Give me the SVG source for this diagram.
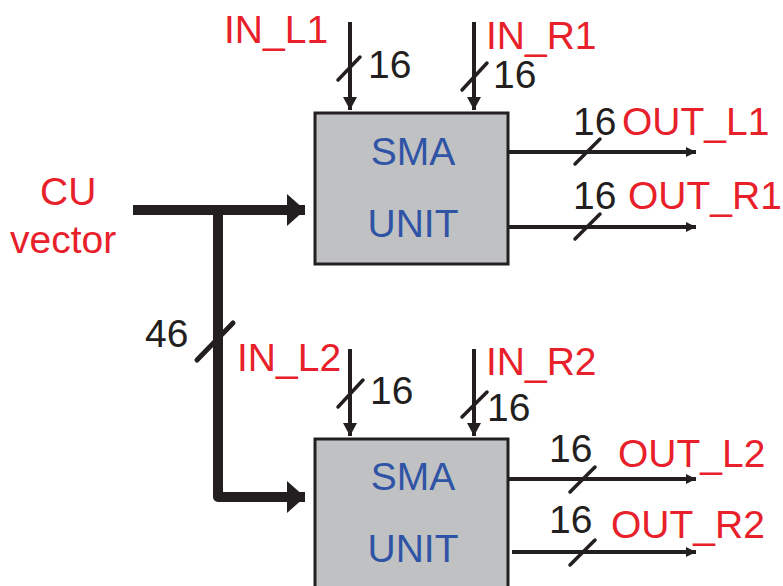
<svg xmlns="http://www.w3.org/2000/svg" width="783" height="586" viewBox="0 0 783 586">
<defs>
<marker id="ah" markerUnits="userSpaceOnUse" markerWidth="16" markerHeight="16" viewBox="0 0 16 16" refX="13" refY="8" orient="auto"><path d="M0,1 L13,8 L0,15 Z" fill="#231f20"/></marker>
<marker id="ahs" markerUnits="userSpaceOnUse" markerWidth="12" markerHeight="12" viewBox="0 0 12 12" refX="10" refY="6" orient="auto"><path d="M0,1 L10,6 L0,11 Z" fill="#231f20"/></marker>
<marker id="ahb" markerUnits="userSpaceOnUse" markerWidth="20" markerHeight="34" viewBox="0 0 20 34" refX="18" refY="17" orient="auto"><path d="M0,1 L18,17 L0,33 Z" fill="#231f20"/></marker>
</defs>
<style>
text{font-family:"Liberation Sans",Arial,sans-serif;font-size:39px}
.red{fill:#e8202a}
.blk{fill:#231f20}
.blue{fill:#2f54a6;text-anchor:middle}
.box{fill:#c0c1c3;stroke:#231f20;stroke-width:3}
.w{stroke:#231f20;stroke-width:4;fill:none}
.sl{stroke:#231f20;stroke-width:3.5;stroke-linecap:round;fill:none}
.bus{stroke:#231f20;stroke-width:10;fill:none;stroke-linejoin:round}
</style>
<g id="unit1">
<rect class="box" x="315" y="113" width="193" height="151"/>
<text class="blue" x="413" y="165">SMA</text>
<text class="blue" x="413" y="237">UNIT</text>
</g>
<g id="unit2">
<rect class="box" x="315" y="439" width="193" height="160"/>
<text class="blue" x="413" y="490">SMA</text>
<text class="blue" x="413" y="562">UNIT</text>
</g>
<g id="connectors">
<path class="bus" d="M133,210 H305" marker-end="url(#ahb)"/>
<path class="bus" d="M218,210 V497 H305" marker-end="url(#ahb)"/>
<path class="sl" d="M197,360 L233,323" style="stroke-width:5"/>
<path class="w" d="M350,22 V110" marker-end="url(#ah)"/>
<path class="w" d="M474,22 V110" marker-end="url(#ah)"/>
<path class="w" d="M350,349 V436" marker-end="url(#ah)"/>
<path class="w" d="M474,349 V436" marker-end="url(#ah)"/>
<path class="w" d="M508,152 H696" marker-end="url(#ahs)"/>
<path class="w" d="M508,227 H696" marker-end="url(#ahs)"/>
<path class="w" d="M508,479 H696" marker-end="url(#ahs)"/>
<path class="w" d="M512,552 H696" marker-end="url(#ahs)"/>
<path class="sl" d="M338,80 L360,57"/>
<path class="sl" d="M462,90 L487,63"/>
<path class="sl" d="M338,407 L363,380"/>
<path class="sl" d="M462,417 L487,392"/>
<path class="sl" d="M575,164 L600,139"/>
<path class="sl" d="M575,239 L600,214"/>
<path class="sl" d="M570,492 L595,467"/>
<path class="sl" d="M570,565 L595,540"/>
</g>
<g id="labels">
<text class="red" x="40" y="205">CU</text>
<text class="red" x="10" y="253">vector</text>
<text class="blk" x="145" y="347">46</text>
<text class="red" x="224" y="43">IN_L1</text>
<text class="red" x="486" y="49">IN_R1</text>
<text class="blk" x="368" y="78">16</text>
<text class="blk" x="493" y="88">16</text>
<text class="red" x="237" y="371">IN_L2</text>
<text class="red" x="486" y="375">IN_R2</text>
<text class="blk" x="370" y="404">16</text>
<text class="blk" x="487" y="421">16</text>
<text class="blk" x="573" y="135">16</text>
<text class="red" x="622" y="135">OUT_L1</text>
<text class="blk" x="573" y="209">16</text>
<text class="red" x="628" y="209">OUT_R1</text>
<text class="blk" x="549" y="462">16</text>
<text class="red" x="618" y="467">OUT_L2</text>
<text class="blk" x="549" y="533">16</text>
<text class="red" x="611" y="538">OUT_R2</text>
</g>
</svg>
